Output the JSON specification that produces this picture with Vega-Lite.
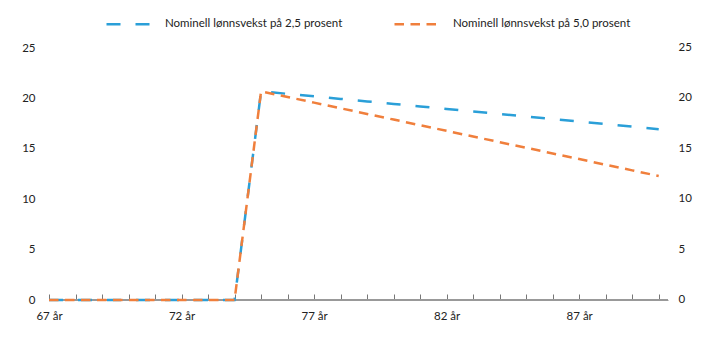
{
  "$schema": "https://vega.github.io/schema/vega-lite/v6.json",
  "autosize": "none",
  "width": 619,
  "height": 252,
  "padding": {"left": 49, "top": 48, "right": 52, "bottom": 41},
  "config": {
    "font": "Lato",
    "view": {"stroke": null},
    "axis": {"labelFont": "Lato", "labelFontSize": 11.5, "labelColor": "#222222"}
  },
  "data": {
    "values": [
      {"age": 67, "series": "Nominell lønnsvekst på 2,5 prosent", "value": 0},
      {"age": 68, "series": "Nominell lønnsvekst på 2,5 prosent", "value": 0},
      {"age": 69, "series": "Nominell lønnsvekst på 2,5 prosent", "value": 0},
      {"age": 70, "series": "Nominell lønnsvekst på 2,5 prosent", "value": 0},
      {"age": 71, "series": "Nominell lønnsvekst på 2,5 prosent", "value": 0},
      {"age": 72, "series": "Nominell lønnsvekst på 2,5 prosent", "value": 0},
      {"age": 73, "series": "Nominell lønnsvekst på 2,5 prosent", "value": 0},
      {"age": 74, "series": "Nominell lønnsvekst på 2,5 prosent", "value": 0},
      {"age": 75, "series": "Nominell lønnsvekst på 2,5 prosent", "value": 20.7},
      {"age": 76, "series": "Nominell lønnsvekst på 2,5 prosent", "value": 20.45},
      {"age": 77, "series": "Nominell lønnsvekst på 2,5 prosent", "value": 20.2},
      {"age": 78, "series": "Nominell lønnsvekst på 2,5 prosent", "value": 19.95},
      {"age": 79, "series": "Nominell lønnsvekst på 2,5 prosent", "value": 19.7},
      {"age": 80, "series": "Nominell lønnsvekst på 2,5 prosent", "value": 19.45},
      {"age": 81, "series": "Nominell lønnsvekst på 2,5 prosent", "value": 19.2},
      {"age": 82, "series": "Nominell lønnsvekst på 2,5 prosent", "value": 18.95},
      {"age": 83, "series": "Nominell lønnsvekst på 2,5 prosent", "value": 18.7},
      {"age": 84, "series": "Nominell lønnsvekst på 2,5 prosent", "value": 18.45},
      {"age": 85, "series": "Nominell lønnsvekst på 2,5 prosent", "value": 18.2},
      {"age": 86, "series": "Nominell lønnsvekst på 2,5 prosent", "value": 17.95},
      {"age": 87, "series": "Nominell lønnsvekst på 2,5 prosent", "value": 17.7},
      {"age": 88, "series": "Nominell lønnsvekst på 2,5 prosent", "value": 17.45},
      {"age": 89, "series": "Nominell lønnsvekst på 2,5 prosent", "value": 17.2},
      {"age": 90, "series": "Nominell lønnsvekst på 2,5 prosent", "value": 16.95},
      {"age": 67, "series": "Nominell lønnsvekst på 5,0 prosent", "value": 0},
      {"age": 68, "series": "Nominell lønnsvekst på 5,0 prosent", "value": 0},
      {"age": 69, "series": "Nominell lønnsvekst på 5,0 prosent", "value": 0},
      {"age": 70, "series": "Nominell lønnsvekst på 5,0 prosent", "value": 0},
      {"age": 71, "series": "Nominell lønnsvekst på 5,0 prosent", "value": 0},
      {"age": 72, "series": "Nominell lønnsvekst på 5,0 prosent", "value": 0},
      {"age": 73, "series": "Nominell lønnsvekst på 5,0 prosent", "value": 0},
      {"age": 74, "series": "Nominell lønnsvekst på 5,0 prosent", "value": 0},
      {"age": 75, "series": "Nominell lønnsvekst på 5,0 prosent", "value": 20.7},
      {"age": 76, "series": "Nominell lønnsvekst på 5,0 prosent", "value": 20.14},
      {"age": 77, "series": "Nominell lønnsvekst på 5,0 prosent", "value": 19.58},
      {"age": 78, "series": "Nominell lønnsvekst på 5,0 prosent", "value": 19.02},
      {"age": 79, "series": "Nominell lønnsvekst på 5,0 prosent", "value": 18.46},
      {"age": 80, "series": "Nominell lønnsvekst på 5,0 prosent", "value": 17.9},
      {"age": 81, "series": "Nominell lønnsvekst på 5,0 prosent", "value": 17.34},
      {"age": 82, "series": "Nominell lønnsvekst på 5,0 prosent", "value": 16.78},
      {"age": 83, "series": "Nominell lønnsvekst på 5,0 prosent", "value": 16.22},
      {"age": 84, "series": "Nominell lønnsvekst på 5,0 prosent", "value": 15.66},
      {"age": 85, "series": "Nominell lønnsvekst på 5,0 prosent", "value": 15.1},
      {"age": 86, "series": "Nominell lønnsvekst på 5,0 prosent", "value": 14.54},
      {"age": 87, "series": "Nominell lønnsvekst på 5,0 prosent", "value": 13.98},
      {"age": 88, "series": "Nominell lønnsvekst på 5,0 prosent", "value": 13.42},
      {"age": 89, "series": "Nominell lønnsvekst på 5,0 prosent", "value": 12.86},
      {"age": 90, "series": "Nominell lønnsvekst på 5,0 prosent", "value": 12.3}
    ]
  },
  "layer": [
    {
      "mark": {"type": "rule", "color": "#999999", "strokeWidth": 1},
      "encoding": {"y": {"datum": 0, "type": "quantitative"}}
    },
    {
      "mark": {"type": "line", "strokeWidth": 2.5, "strokeCap": "butt"},
      "encoding": {
        "x": {
          "field": "age",
          "type": "quantitative",
          "scale": {"domain": [67, 90.35], "nice": false, "zero": false},
          "axis": {
            "title": null,
            "values": [67,68,69,70,71,72,73,74,75,76,77,78,79,80,81,82,83,84,85,86,87,88,89,90],
            "tickCount": 40,
            "labelExpr": "datum.value % 5 == 2 ? datum.value + ' år' : ''",
            "labelOverlap": false,
            "grid": false,
            "domainColor": "#999999",
            "tickColor": "#777777",
            "tickSize": -6,
            "labelPadding": 16,
            "labelFlush": false
          }
        },
        "y": {
          "field": "value",
          "type": "quantitative",
          "scale": {"domain": [0, 25], "nice": false},
          "axis": {
            "title": null,
            "values": [0, 5, 10, 15, 20, 25],
            "domain": false,
            "ticks": false,
            "gridColor": "#cccccc",
            "labelPadding": 14
          }
        },
        "color": {
          "field": "series",
          "type": "nominal",
          "scale": {"range": ["#2a9fd8", "#f07f3c"]},
          "legend": {
            "title": null,
            "orient": "none",
            "direction": "horizontal",
            "legendX": 56,
            "legendY": -48,
            "symbolType": "stroke",
            "symbolSize": 2025,
            "symbolStrokeWidth": 2.5,
            "labelFontSize": 11.5,
            "labelFont": "Lato",
            "labelColor": "#222222",
            "labelLimit": 0,
            "labelOffset": 12,
            "columnPadding": 46
          }
        },
        "strokeDash": {
          "field": "series",
          "type": "nominal",
          "scale": {"range": [[14, 15], [9.5, 6.5]]},
          "legend": null
        },
        "order": {"field": "series", "type": "nominal"}
      }
    },
    {
      "mark": {"type": "text", "align": "left", "baseline": "middle", "dx": 0, "font": "Lato", "fontSize": 11.5, "color": "#222222"},
      "data": {"values": [{"v": 0}, {"v": 5}, {"v": 10}, {"v": 15}, {"v": 20}, {"v": 25}]},
      "encoding": {
        "y": {"field": "v", "type": "quantitative"},
        "x": {"datum": 90.75, "type": "quantitative"},
        "text": {"field": "v", "type": "quantitative"}
      }
    }
  ]
}
